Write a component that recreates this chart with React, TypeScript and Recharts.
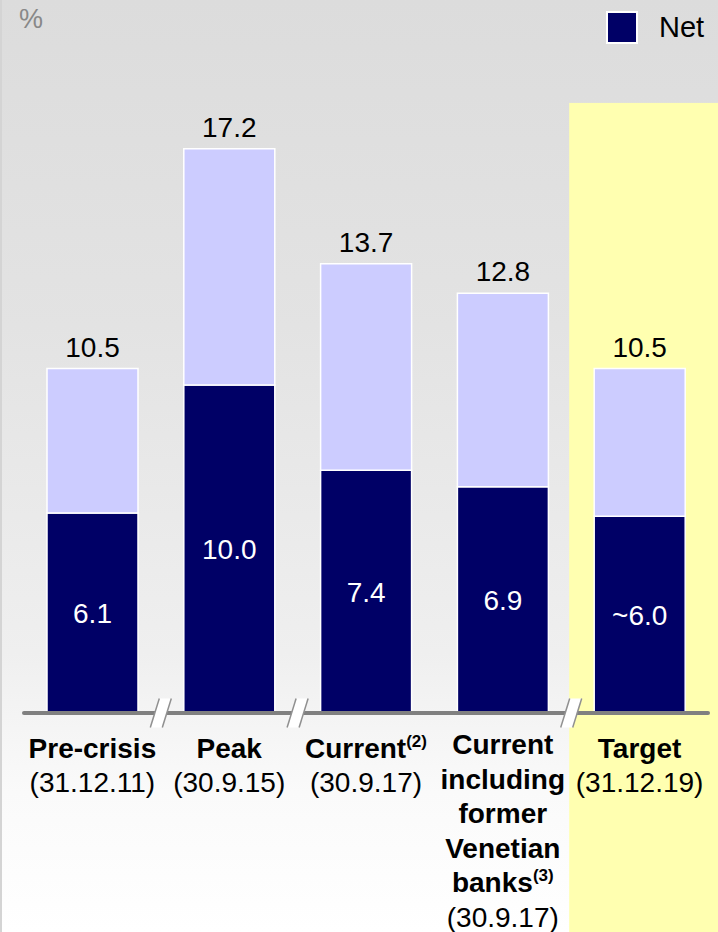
import { BarChart, Bar, XAxis, YAxis, LabelList, ReferenceArea } from "recharts";

// Non-performing loan ratios, gross (full bar) and net (dark part)
const categories = ["Pre-crisis", "Peak", "Current", "Current including former Venetian banks", "Target"];
const categoryTitles = [["Pre-crisis"], ["Peak"], ["Current"], ["Current", "including", "former", "Venetian", "banks"], ["Target"]];
const categoryNotes = ["", "", "(2)", "(3)", ""];
const categoryDates = ["(31.12.11)", "(30.9.15)", "(30.9.17)", "(30.9.17)", "(31.12.19)"];
const grossValues = [10.5, 17.2, 13.7, 12.8, 10.5];
const netValues = [6.1, 10.0, 7.4, 6.9, 6.0];
const netApprox = [false, false, false, false, true];
// axis breaks drawn after these category indexes
const breakAfter = [0, 1, 3];
const highlighted = "Target";

const W = 718;
const H = 932;
const FONT = "'Liberation Sans', Arial, sans-serif";
const NAVY = "#000066";
const LAVENDER = "#ccccff";

const data = categories.map((name, i) => ({
  name,
  net: netValues[i],
  rest: +(grossValues[i] - netValues[i]).toFixed(1),
  netLabel: (netApprox[i] ? "~" : "") + netValues[i].toFixed(1),
  grossLabel: grossValues[i].toFixed(1),
}));

const margin = { top: 57, right: 10, left: 24, bottom: 0 };
const step = (W - margin.left - margin.right) / categories.length;

const CategoryTick = (props: any) => {
  const { x, y, index } = props;
  const lines = categoryTitles[index];
  const long = lines.length > 1;
  const top = y + (long ? 33 : 37);
  const lh = long ? 34.6 : 34;
  return (
    <g>
      {breakAfter.includes(index) && (
        <g transform={`translate(${x + step / 2}, ${y - 8})`}>
          <polygon points="-10.5,14.5 -1.5,-14.5 10.5,-14.5 1.5,14.5" fill="#ffffff" />
          <line x1={-10.5} y1={14.5} x2={-1.5} y2={-14.5} stroke="#909090" strokeWidth={1.5} />
          <line x1={1.5} y1={14.5} x2={10.5} y2={-14.5} stroke="#909090" strokeWidth={1.5} />
        </g>
      )}
      {lines.map((t, i) => (
        <text key={i} x={x} y={top + i * lh} textAnchor="middle" fontSize={28} fontWeight="bold" fill="#000">
          {t}
          {i === lines.length - 1 && categoryNotes[index] && (
            <tspan fontSize={17} dy={-11}>{categoryNotes[index]}</tspan>
          )}
        </text>
      ))}
      <text x={x} y={top + lines.length * lh} textAnchor="middle" fontSize={28} fill="#000">
        {categoryDates[index]}
      </text>
    </g>
  );
};

const HighlightShape = (props: any) => {
  const { x, y } = props;
  return <rect x={x - 2} y={y} width={W - x + 2} height={H - y} fill="#ffffb0" />;
};

export default function App() {
  return (
    <div
      style={{
        position: "absolute",
        top: 0,
        left: 0,
        width: W,
        height: H,
        overflow: "hidden",
        fontFamily: FONT,
        boxSizing: "border-box",
        borderLeft: "2px solid #d4d4d4",
        background: "linear-gradient(to bottom, #dcdcdc 0%, #e3e3e3 35%, #efefef 70%, #fafafa 85%, #ffffff 100%)",
      }}
    >
      <div style={{ position: "absolute", left: 17, top: 4, fontSize: 27, color: "#888888" }}>%</div>
      <div style={{ position: "absolute", left: 604, top: 11, display: "flex", alignItems: "center" }}>
        <div style={{ width: 28, height: 29, background: NAVY, border: "2px solid #ffffff" }} />
        <span style={{ marginLeft: 21, fontSize: 29, color: "#000" }}>Net</span>
      </div>
      <BarChart
        width={W}
        height={H}
        data={data}
        margin={margin}
        style={{ fontFamily: FONT, position: "absolute", left: -2, top: 0 }}
      >
        <ReferenceArea
          x1={highlighted}
          x2={highlighted}
          y1={0}
          y2={18.6}
          ifOverflow="visible"
          shape={HighlightShape}
        />
        <XAxis
          dataKey="name"
          height={219}
          interval={0}
          tickLine={false}
          axisLine={{ stroke: "#808080", strokeWidth: 4, strokeLinecap: "round" }}
          tick={CategoryTick}
        />
        <YAxis hide domain={[0, 20]} />
        <Bar dataKey="net" stackId="a" fill={NAVY} stroke="#ffffff" strokeWidth={1.5} barSize={91} isAnimationActive={false}>
          <LabelList dataKey="netLabel" position="center" fill="#ffffff" fontSize={28} />
        </Bar>
        <Bar dataKey="rest" stackId="a" fill={LAVENDER} stroke="#ffffff" strokeWidth={1.5} barSize={91} isAnimationActive={false}>
          <LabelList dataKey="grossLabel" position="top" offset={12} fill="#000000" fontSize={28} />
        </Bar>
      </BarChart>
    </div>
  );
}
